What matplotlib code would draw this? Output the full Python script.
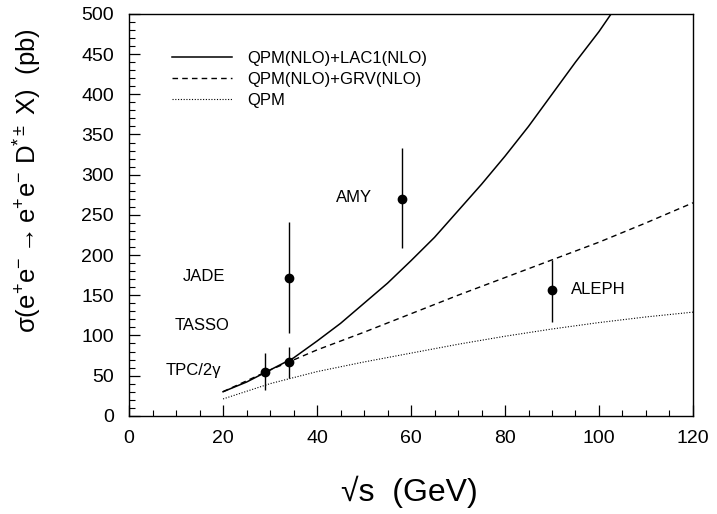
import matplotlib
matplotlib.use("Agg")
import matplotlib.pyplot as plt
from matplotlib.ticker import MultipleLocator

plt.rcParams['font.family'] = ['Liberation Sans', 'DejaVu Sans']
plt.rcParams['mathtext.fontset'] = 'custom'
plt.rcParams['mathtext.rm'] = 'Liberation Sans'
plt.rcParams['mathtext.it'] = 'Liberation Sans'
plt.rcParams['mathtext.default'] = 'regular'

# Theory curves
x_lac = [20, 25, 30, 35, 40, 45, 50, 55, 60, 65, 70, 75, 80, 85, 90, 95, 100, 104]
y_lac = [30, 42, 57, 72, 93, 115, 140, 165, 193, 222, 255, 288, 323, 360, 400, 440, 478, 512]
x_grv = [20, 30, 40, 50, 60, 70, 80, 90, 100, 110, 120]
y_grv = [30, 57, 82, 104, 127, 150, 172, 194, 216, 240, 265]
x_qpm = [20, 30, 40, 50, 60, 70, 80, 90, 100, 110, 120]
y_qpm = [21, 40, 55, 67, 78, 89, 99, 108, 116, 123, 129]

# Data points
exp_names = ["TPC/2\u03b3", "TASSO", "JADE", "AMY", "ALEPH"]
exp_x = [29, 34, 34, 58, 90]
exp_y = [55, 67, 172, 270, 156]
exp_err_lo = [23, 20, 69, 61, 39]
exp_err_hi = [23, 19, 69, 63, 38]
label_x = [7.7, 9.8, 11.5, 44, 94]
label_y = [57, 112, 173, 271, 157]

fig = plt.figure(figsize=(7.17, 5.14), dpi=100)
ax = fig.add_axes([0.180, 0.191, 0.7865, 0.782])

ax.plot(x_lac, y_lac, color='black', lw=1.1, ls='-', label='QPM(NLO)+LAC1(NLO)')
ax.plot(x_grv, y_grv, color='black', lw=1.0, ls=(0, (4, 3)), label='QPM(NLO)+GRV(NLO)')
ax.plot(x_qpm, y_qpm, color='black', lw=0.8, ls=(0, (1, 1.5)), label='QPM')

ax.errorbar(exp_x, exp_y, yerr=[exp_err_lo, exp_err_hi], fmt='o', color='black',
            ms=6, elinewidth=1.0, capsize=0)
for n, lx, ly in zip(exp_names, label_x, label_y):
    ax.text(lx, ly, n, fontsize=12, va='center', ha='left')

ax.set_xlim(0, 120)
ax.set_ylim(0, 500)
ax.xaxis.set_major_locator(MultipleLocator(20))
ax.xaxis.set_minor_locator(MultipleLocator(5))
ax.yaxis.set_major_locator(MultipleLocator(50))
ax.yaxis.set_minor_locator(MultipleLocator(10))
ax.tick_params(which='both', direction='in', top=False, right=False, labelsize=14)
ax.tick_params(axis='x', which='both', pad=10)
ax.tick_params(axis='y', which='both', pad=11)
ax.tick_params(which='major', length=8, width=0.9)
ax.tick_params(which='minor', length=4, width=0.8)
for s in ax.spines.values():
    s.set_linewidth(1.0)

ax.set_ylabel(r'$\sigma(e^{+}e^{-} \rightarrow e^{+}e^{-}\ D^{*\pm}\ X)$  (pb)', fontsize=18.5)
ax.yaxis.set_label_coords(-0.151, 0.585)
ax.set_xlabel('\u221as  (GeV)', fontsize=23, va='center')
ax.xaxis.set_label_coords(0.497, -0.188)

ax.legend(loc='upper left', bbox_to_anchor=(0.05, 0.945), frameon=False, fontsize=12,
          handlelength=3.6, handletextpad=0.9, labelspacing=0.35)

fig.savefig('out.png', dpi=100)
